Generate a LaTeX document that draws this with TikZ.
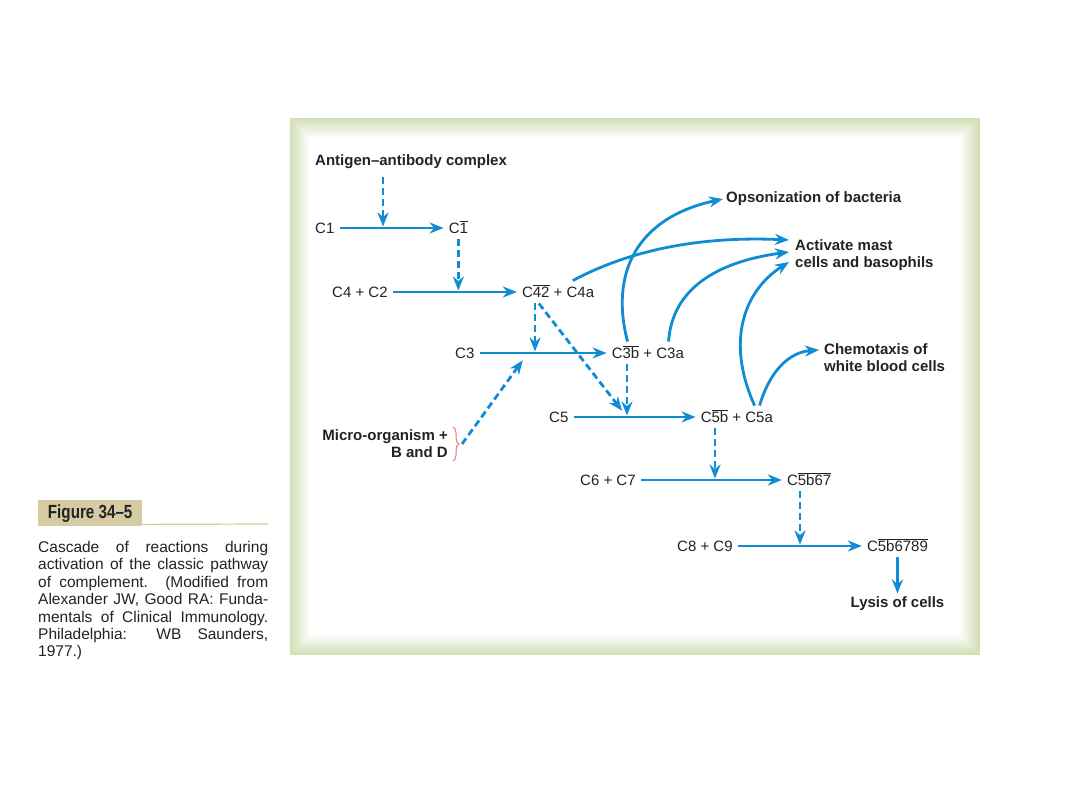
\documentclass[tikz,border=0pt]{standalone}
\usepackage{fontspec}
\setmainfont{Liberation Sans}
\newfontfamily\condfont[FakeStretch=0.8,Ligatures=TeX]{Liberation Sans}
\usetikzlibrary{arrows.meta,positioning,calc,decorations.pathreplacing}
\definecolor{cblue}{RGB}{16,140,210}
\definecolor{panelgreen}{RGB}{210,222,180}
\definecolor{figtan}{RGB}{214,203,163}
\definecolor{bracered}{RGB}{235,120,120}
\definecolor{inktext}{RGB}{35,35,35}
\newcommand{\barred}[1]{$\overline{\mbox{#1}}$}

\begin{document}
\begin{tikzpicture}[
    x=1pt, y=-1pt,
    font=\fontsize{15}{18}\selectfont,
    text=inktext,
    chem/.style={inner xsep=5pt, inner ysep=3pt, text height=13.5pt, text depth=3pt},
    outcome/.style={font=\bfseries\fontsize{15}{17}\selectfont, inner sep=3pt},
    react/.style={line width=2.8pt, draw=cblue, -{Stealth[length=14pt,width=11pt]}},
    dashreact/.style={react, dash pattern=on 7pt off 4pt}
]
    \useasboundingbox (0,0) rectangle (1080,810);
    \fill[white] (0,0) rectangle (1080,810);
    \fill[panelgreen] (290,118) rectangle (980,655);
    \foreach \i [evaluate=\i as \p using 100-5*\i] in {1,...,20}
        \fill[panelgreen!\p!white] (290+\i,118+\i) rectangle (980-\i,655-\i);

    \node[outcome, anchor=west] (antigen) at (312,162) {Antigen--antibody complex};
    \node[chem, anchor=west] (c1) at (310,228) {C1};
    \node[chem, right=104pt of c1] (cbarone) {C\barred{1}};
    \node[chem, anchor=west] (cfourtwo) at (327,292) {C4 + C2};
    \node[chem, right=124pt of cfourtwo] (cfourtwobar) {C\barred{42} + C4a};
    \node[chem, anchor=west] (cthree) at (450,353) {C3};
    \node[chem, right=127pt of cthree] (cthreeb) {C\barred{3b} + C3a};
    \node[chem, anchor=west] (cfive) at (544,417) {C5};
    \node[chem, right=122pt of cfive] (cfiveb) {C\barred{5b} + C5a};
    \node[chem, anchor=west] (csixseven) at (575,480) {C6 + C7};
    \node[chem, right=141pt of csixseven] (cfivebsix) {C\barred{5b67}};
    \node[chem, anchor=west] (ceightnine) at (672,546) {C8 + C9};
    \node[chem, right=124pt of ceightnine] (cattack) {C\barred{5b6789}};
    \node[outcome, below=36pt of cattack] (lysis) {Lysis of cells};

    \node[outcome, anchor=west] (opson) at (723,199) {Opsonization of bacteria};
    \node[outcome, anchor=west, align=left, inner xsep=6pt] (mast) at (789,255) {Activate mast\\cells and basophils};
    \node[outcome, anchor=west, align=left, inner xsep=5pt] (chemo) at (819,358) {Chemotaxis of\\white blood cells};
    \node[outcome, anchor=east, align=right] (micro) at (451,444) {Micro-organism +\\B and D};

    \coordinate (j1) at (383,228);
    \coordinate (j3) at (535,353);
    \coordinate (jm) at (528,353);
    \coordinate (j4) at (627,417);
    \coordinate (j5) at (715,480);
    \coordinate (j6) at (800,546);
    \coordinate (bracetip) at ([xshift=11pt]micro.east);

    \draw[react] (c1) -- (cbarone);
    \draw[react] (cfourtwo) -- (cfourtwobar);
    \draw[react] (cthree) -- (cthreeb);
    \draw[react] (cfive) -- (cfiveb);
    \draw[react] (csixseven) -- (cfivebsix);
    \draw[react] (ceightnine) -- (cattack);
    \draw[react] (cattack) -- (lysis);

    \draw[dashreact, shorten <=5pt, shorten >=1.5pt] (antigen.south -| j1) -- (j1);
    \draw[dashreact, shorten >=1.5pt] (cbarone) -- (cbarone |- cfourtwo);
    \draw[dashreact, shorten >=1.5pt] (cfourtwobar.south -| j3) -- (j3);
    \draw[dashreact, shorten >=8pt] ([xshift=22pt]cfourtwobar.south west) -- (j4);
    \draw[dashreact, shorten >=1.5pt] (cthreeb.south -| j4) -- (j4);
    \draw[dashreact, shorten >=9pt] (bracetip) -- (jm);
    \draw[dashreact, shorten >=1.5pt] (cfiveb.south -| j5) -- (j5);
    \draw[dashreact, shorten >=1.5pt] (cfivebsix.south -| j6) -- (j6);

    \draw[react] ([xshift=21pt]cthreeb.north west) .. controls (610,275) and (635,218) .. (opson.west);
    \draw[react] ([xshift=56pt]cfourtwobar.north west) .. controls (630,250) and (700,236) .. ([yshift=15pt]mast.west);
    \draw[react] ([xshift=62pt]cthreeb.north west) .. controls (672,290) and (715,262) .. ([yshift=3pt]mast.west);
    \draw[react] ([xshift=59pt]cfiveb.north west) .. controls (725,340) and (745,290) .. ([yshift=-7pt]mast.west);
    \draw[react] ([xshift=64pt]cfiveb.north west) .. controls (770,370) and (790,352) .. ([yshift=8pt]chemo.west);

    \draw[bracered, line width=1pt, decorate, decoration={brace, amplitude=6pt}]
        ([xshift=2pt]micro.north east) -- ([xshift=2pt]micro.south east);

    \node[fill=figtan, minimum width=104pt, minimum height=26pt, anchor=north west, inner sep=0pt,
          font=\condfont\bfseries\fontsize{19}{19}\selectfont] (figlabel) at (38,500) {Figure 34--5};
    \coordinate (ruleend) at (268,524);
    \draw[figtan, line width=1.2pt] ([yshift=2pt]figlabel.south east) -- (ruleend);
    \node[anchor=north west, inner sep=0pt, text width=230pt, align=justify,
          font=\fontsize{15.5}{17.4}\selectfont] (caption) at (38,541)
        {Cascade of reactions during\linebreak activation of the classic pathway\linebreak
         of complement. (Modified from\linebreak Alexander JW, Good RA: Funda-\linebreak
         mentals of Clinical Immunology.\linebreak Philadelphia: WB Saunders,\linebreak 1977.)};
\end{tikzpicture}
\end{document}
